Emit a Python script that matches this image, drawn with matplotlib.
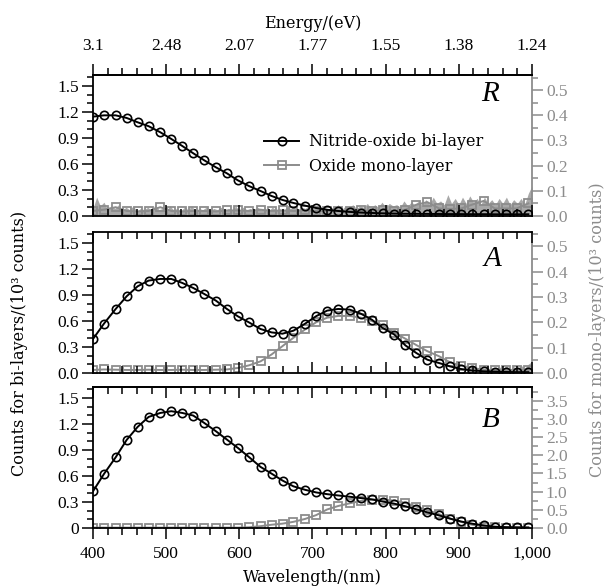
import matplotlib
matplotlib.use('Agg')
from matplotlib import pyplot as plt
from matplotlib.ticker import MultipleLocator, FixedLocator, FuncFormatter

plt.rcParams['font.family'] = ['Liberation Serif', 'DejaVu Serif']
plt.rcParams['font.size'] = 12.5

GREY = '#8c8c8c'
NOISE_GREY = '#a8a8a8'
TEXT_FONT = {'family': ['DejaVu Serif'], 'size': 11.5}

# marker positions (nm)
wavelength = [400, 415, 431, 446, 461, 476, 492, 507, 522, 537,
              552, 568, 583, 598, 613, 629, 644, 659, 674, 690,
              705, 720, 735, 751, 766, 781, 796, 812, 827, 842,
              857, 873, 888, 903, 918, 934, 949, 964, 979, 995]

# panel R
bi_R = [1.145, 1.16, 1.16, 1.13, 1.08, 1.035, 0.965, 0.888, 0.807, 0.723,
        0.642, 0.561, 0.492, 0.411, 0.346, 0.288, 0.231, 0.185, 0.150, 0.119,
        0.092, 0.072, 0.058, 0.047, 0.040, 0.035, 0.031, 0.028, 0.026, 0.025,
        0.024, 0.023, 0.022, 0.022, 0.021, 0.021, 0.020, 0.020, 0.020, 0.020]
mono_R = [0.02, 0.025, 0.035, 0.02, 0.018, 0.02, 0.035, 0.02, 0.018, 0.02,
          0.02, 0.018, 0.022, 0.022, 0.02, 0.025, 0.02, 0.022, 0.02, 0.022,
          0.02, 0.02, 0.02, 0.02, 0.022, 0.02, 0.022, 0.02, 0.025, 0.045,
          0.055, 0.03, 0.028, 0.03, 0.045, 0.06, 0.03, 0.03, 0.03, 0.05]

# panel A
bi_A = [0.392, 0.569, 0.738, 0.884, 0.999, 1.065, 1.084, 1.084, 1.038, 0.980,
        0.911, 0.834, 0.738, 0.653, 0.584, 0.507, 0.468, 0.453, 0.488, 0.569,
        0.655, 0.719, 0.738, 0.73, 0.684, 0.615, 0.519, 0.442, 0.318, 0.23,
        0.153, 0.115, 0.076, 0.046, 0.03, 0.02, 0.015, 0.012, 0.01, 0.01]
mono_A = [0.012, 0.014, 0.013, 0.012, 0.012, 0.013, 0.012, 0.012, 0.013, 0.012,
          0.012, 0.013, 0.014, 0.02, 0.03, 0.046, 0.073, 0.106, 0.139, 0.172,
          0.200, 0.218, 0.225, 0.225, 0.218, 0.205, 0.188, 0.159, 0.135, 0.11,
          0.086, 0.066, 0.042, 0.029, 0.02, 0.013, 0.012, 0.011, 0.013, 0.012]

# panel B
bi_B = [0.423, 0.623, 0.815, 1.015, 1.165, 1.280, 1.326, 1.346, 1.326, 1.296,
        1.211, 1.115, 1.019, 0.923, 0.819, 0.704, 0.627, 0.547, 0.48, 0.44,
        0.41, 0.39, 0.375, 0.36, 0.345, 0.33, 0.305, 0.28, 0.25, 0.215,
        0.18, 0.145, 0.108, 0.075, 0.05, 0.03, 0.015, 0.01, 0.008, 0.006]
mono_B = [0.01, 0.01, 0.01, 0.01, 0.01, 0.01, 0.01, 0.01, 0.01, 0.01,
          0.01, 0.01, 0.01, 0.01, 0.02, 0.05, 0.09, 0.12, 0.17, 0.25,
          0.355, 0.51, 0.605, 0.68, 0.745, 0.78, 0.78, 0.755, 0.69, 0.59,
          0.49, 0.38, 0.26, 0.17, 0.09, 0.04, 0.02, 0.01, 0.01, 0.01]

# raw mono-layer noise (right axis units)
noise_wl = list(range(400, 1001, 5))
noise_R = [0.03, 0.075, 0.04, 0.055, 0.025, 0.04, 0.03, 0.045, 0.02, 0.035,
           0.025, 0.04, 0.02, 0.03, 0.025, 0.035, 0.02, 0.045, 0.025, 0.03,
           0.02, 0.04, 0.025, 0.03, 0.02, 0.035, 0.025, 0.04, 0.02, 0.03,
           0.025, 0.035, 0.02, 0.03, 0.025, 0.035, 0.02, 0.03, 0.025, 0.04,
           0.02, 0.035, 0.025, 0.03, 0.02, 0.035, 0.025, 0.03, 0.02, 0.035,
           0.025, 0.03, 0.02, 0.035, 0.03, 0.04, 0.025, 0.035, 0.03, 0.04,
           0.025, 0.035, 0.03, 0.04, 0.025, 0.035, 0.03, 0.045, 0.025, 0.04,
           0.03, 0.045, 0.03, 0.04, 0.035, 0.05, 0.03, 0.045, 0.035, 0.055,
           0.035, 0.05, 0.04, 0.045, 0.035, 0.06, 0.04, 0.055, 0.045, 0.06,
           0.04, 0.065, 0.045, 0.075, 0.05, 0.06, 0.045, 0.085, 0.05, 0.07,
           0.045, 0.075, 0.05, 0.08, 0.055, 0.07, 0.045, 0.075, 0.05, 0.065,
           0.045, 0.07, 0.05, 0.075, 0.045, 0.065, 0.05, 0.07, 0.045, 0.09,
           0.12]
noise_A_wl = list(range(940, 1001, 5))
noise_A = [0.015, 0.02, 0.012, 0.025, 0.015, 0.03, 0.015, 0.025, 0.018, 0.03,
           0.02, 0.035, 0.045]

wl_major = [400, 500, 600, 700, 800, 900, 1000]
energy_labels = ['3.1', '2.48', '2.07', '1.77', '1.55', '1.38', '1.24']
left_labels = ['0.0', '0.3', '0.6', '0.9', '1.2', '1.5']
left_labels_B = ['0', '0.3', '0.6', '0.9', '1.2', '1.5']
left_ticks = [0.0, 0.3, 0.6, 0.9, 1.2, 1.5]

fig = plt.figure(figsize=(6.1, 5.88), dpi=100)
W, H = 610, 588
x0, x1 = 93, 532


def make_panel(top, bottom, right_max, right_major, right_minor, letter, letter_pos):
    ax = fig.add_axes([x0 / W, 1 - bottom / H, (x1 - x0) / W, (bottom - top) / H])
    ax2 = ax.twinx()
    ax.set_zorder(ax2.get_zorder() + 1)
    ax.patch.set_visible(False)

    ax.set_xlim(400, 1000)
    ax.set_ylim(0, 1.625)
    ax2.set_ylim(0, right_max)

    ax.xaxis.set_major_locator(FixedLocator(wl_major))
    ax.xaxis.set_minor_locator(MultipleLocator(20))
    ax.yaxis.set_major_locator(FixedLocator(left_ticks))
    ax.yaxis.set_minor_locator(MultipleLocator(0.1))
    ax.tick_params(axis='x', which='both', direction='in', width=1.1, pad=5)
    ax.tick_params(axis='x', which='major', length=8)
    ax.tick_params(axis='x', which='minor', length=5)
    ax.tick_params(axis='y', which='both', direction='out', width=1.1, right=False, pad=2)
    ax.tick_params(axis='y', which='major', length=8)
    ax.tick_params(axis='y', which='minor', length=4.5)

    ax2.yaxis.set_major_locator(MultipleLocator(right_major))
    ax2.yaxis.set_minor_locator(MultipleLocator(right_minor))
    ax2.yaxis.set_major_formatter(FuncFormatter(lambda v, p: f'{v:.1f}'))
    ax2.tick_params(axis='y', which='both', direction='out', width=1.1,
                    color=GREY, labelcolor=GREY, pad=2)
    ax2.tick_params(axis='y', which='major', length=8)
    ax2.tick_params(axis='y', which='minor', length=4.5)

    for s in ['left', 'top', 'bottom']:
        ax2.spines[s].set_visible(False)
    ax2.spines['right'].set_color(GREY)
    ax2.spines['right'].set_linewidth(1.3)
    ax.spines['right'].set_visible(False)
    for s in ['left', 'top', 'bottom']:
        ax.spines[s].set_linewidth(1.3)

    ax.text(letter_pos[0], letter_pos[1], letter, transform=ax.transAxes,
            ha='right', va='top', fontsize=21, style='italic')
    return ax, ax2


def draw(ax, ax2, bi, mono):
    l1, = ax.plot(wavelength, bi, color='black', lw=1.4, marker='o', ms=6,
                  mfc='none', mew=1.2, label='Nitride-oxide bi-layer')
    l2, = ax2.plot(wavelength, mono, color=GREY, lw=1.4, marker='s', ms=5.5,
                   mfc='none', mew=1.3, label='Oxide mono-layer')
    return l1, l2


# panel R
axR, axR2 = make_panel(75, 216, 0.56, 0.1, 0.05, 'R', (0.925, 0.96))
axR2.fill_between(noise_wl, 0, noise_R, color=NOISE_GREY, lw=0)
h1, h2 = draw(axR, axR2, bi_R, mono_R)
axR.yaxis.set_ticklabels(left_labels)
axR.tick_params(axis='x', which='both', top=False, labelbottom=False)
sec = axR.secondary_xaxis('top')
sec.xaxis.set_major_locator(FixedLocator(wl_major))
sec.xaxis.set_ticklabels(energy_labels)
sec.xaxis.set_minor_locator(MultipleLocator(20))
sec.tick_params(axis='x', which='both', direction='out', width=1.1, pad=7)
sec.tick_params(axis='x', which='major', length=8)
sec.tick_params(axis='x', which='minor', length=5)
sec.spines['top'].set_linewidth(1.3)
axR.legend([h1, h2], ['Nitride-oxide bi-layer', 'Oxide mono-layer'],
           loc='center left', bbox_to_anchor=(0.39, 0.44), frameon=False,
           borderpad=0, borderaxespad=0, handlelength=2.2, handletextpad=0.6,
           labelspacing=0.45, prop=TEXT_FONT)

# panel A
axA, axA2 = make_panel(232, 373, 0.556, 0.1, 0.05, 'A', (0.93, 0.9))
axA2.fill_between(noise_A_wl, 0, noise_A, color=NOISE_GREY, lw=0)
draw(axA, axA2, bi_A, mono_A)
axA.yaxis.set_ticklabels(left_labels)
axA.tick_params(axis='x', which='both', top=True, labelbottom=False)

# panel B
axB, axB2 = make_panel(387, 528, 3.88, 0.5, 0.25, 'B', (0.925, 0.86))
draw(axB, axB2, bi_B, mono_B)
axB.yaxis.set_ticklabels(left_labels_B)
axB.tick_params(axis='x', which='both', direction='out', top=False)
axB.xaxis.set_major_formatter(FuncFormatter(lambda v, p: f'{v:,.0f}'))
secB = axB.secondary_xaxis('top')
secB.xaxis.set_major_locator(FixedLocator(wl_major))
secB.xaxis.set_minor_locator(MultipleLocator(20))
secB.tick_params(axis='x', which='both', direction='in', width=1.1, labeltop=False)
secB.tick_params(axis='x', which='major', length=8)
secB.tick_params(axis='x', which='minor', length=5)
secB.spines['top'].set_linewidth(1.3)

fig.text((x0 + x1) / 2 / W, 1 - 578 / H, 'Wavelength/(nm)', ha='center', va='center',
         fontdict=TEXT_FONT)
fig.text((x0 + x1) / 2 / W, 1 - 23 / H, 'Energy/(eV)', ha='center', va='center',
         fontdict=TEXT_FONT)
fig.text(20 / W, 1 - 343 / H, 'Counts for bi-layers/(10³ counts)',
         rotation=90, ha='center', va='center', fontdict=TEXT_FONT)
fig.text(598 / W, 1 - 330 / H, 'Counts for mono-layers/(10³ counts)',
         rotation=90, ha='center', va='center', color=GREY, fontdict=TEXT_FONT)

fig.savefig('out.png', dpi=100)
